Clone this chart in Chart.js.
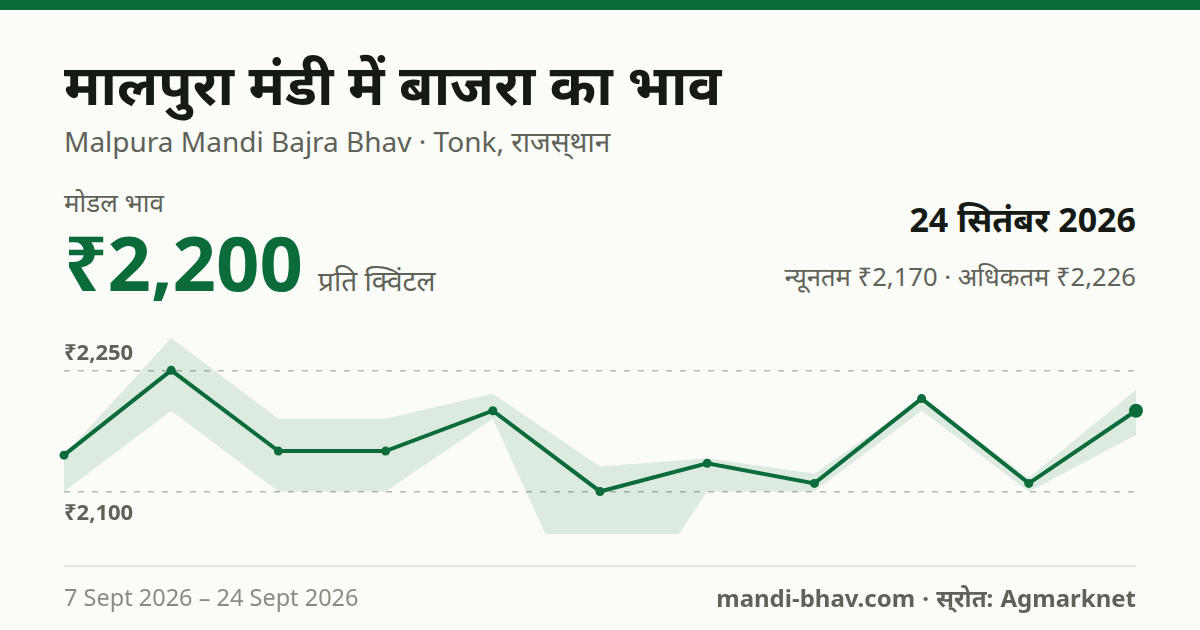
<!DOCTYPE html>
<html>
<head>
<meta charset="utf-8">
<script src="https://cdn.jsdelivr.net/npm/chart.js@4/dist/chart.umd.min.js"></script>
<style>
html, body { margin: 0; padding: 0; }
body { width: 1200px; height: 630px; background: #fbfcf8; position: relative; overflow: hidden; font-family: "Noto Sans", sans-serif; }
.t { position: absolute; white-space: nowrap; line-height: 1; }
#topbar { position: absolute; left: 0; top: 0; width: 1200px; height: 10px; background: #0b6b3a; }
#title { left: 64px; top: 55px; font-size: 56px; font-weight: 700; color: #161a14; }
#sub { left: 64px; top: 127px; font-size: 28px; color: #5f6259; }
#label { left: 64px; top: 189px; font-size: 26px; color: #5f6259; }
#value { left: 64px; top: 223.5px; font-size: 76px; font-weight: 700; color: #0b6b3a; }
#unit { left: 318px; top: 266px; font-size: 28px; color: #5f6259; }
#date { right: 64px; top: 202px; font-size: 34px; font-weight: 700; color: #161a14; }
#range { right: 64px; top: 264px; font-size: 25.6px; color: #5f6259; }
#rule { position: absolute; left: 64px; top: 565px; width: 1072px; height: 2px; background: #e4e5dd; }
#from { left: 64px; top: 586px; font-size: 23.5px; color: #8a8c84; }
#source { right: 64px; top: 586px; font-size: 24px; font-weight: 700; color: #5f6259; word-spacing: 1px; }
#wrap { position: absolute; left: 0; top: 0; width: 1200px; height: 630px; }
</style>
</head>
<body>
<div id="topbar"></div>
<div class="t" id="title">मालपुरा मंडी में बाजरा का भाव</div>
<div class="t" id="sub">Malpura Mandi Bajra Bhav · Tonk, राजस्&zwnj;थान</div>
<div class="t" id="label">मोडल भाव</div>
<div class="t" id="value">₹2,200</div>
<div class="t" id="unit">प्रति क्विंटल</div>
<div class="t" id="date">24 सितंबर 2026</div>
<div class="t" id="range">न्यूनतम ₹2,170 · अधिकतम ₹2,226</div>
<div id="wrap"><canvas id="priceChart"></canvas></div>
<div id="rule"></div>
<div class="t" id="from">7 Sept 2026 – 24 Sept 2026</div>
<div class="t" id="source">mandi-bhav.com · स्&zwnj;रोत: Agmarknet</div>

<script>
var categories = ["7 Sept", "", "", "", "", "", "", "", "", "", "24 Sept"];
var modalPrice = [2145, 2250, 2150, 2150, 2200, 2100, 2135, 2110, 2215, 2110, 2200];
var maxPrice = [2145, 2290, 2190, 2190, 2221, 2131, 2141, 2122, 2215, 2117, 2226];
var minPrice = [2100, 2200, 2100, 2100, 2190, 1900, 2100, 2100, 2200, 2100, 2170];
var tickValues = [2100, 2250];
var tickLabels = ["₹2,100", "₹2,250"];

var green = "#0b6b3a";
var lastIndex = modalPrice.length - 1;

// tick labels sit just off their grid lines, above the top one and below the bottom one
var tickLabelPlugin = {
    id: "tickLabelPlugin",
    afterDraw: function (chart) {
        var ctx = chart.ctx;
        var y = chart.scales.y;
        ctx.save();
        ctx.font = "700 22px 'Noto Sans'";
        ctx.fillStyle = "#5f6259";
        ctx.textAlign = "left";
        ctx.textBaseline = "middle";
        tickValues.forEach(function (v, i) {
            var offset = i === 0 ? 22 : -16.5;
            ctx.fillText(tickLabels[i], chart.chartArea.left, y.getPixelForValue(v) + offset);
        });
        ctx.restore();
    }
};

var ctx = document.getElementById("priceChart");
var myChart = new Chart(ctx, {
    type: "line",
    plugins: [tickLabelPlugin],
    data: {
        labels: categories,
        datasets: [
            {
                label: "Modal",
                data: modalPrice,
                borderColor: green,
                backgroundColor: green,
                borderWidth: 4,
                tension: 0,
                fill: false,
                pointBackgroundColor: green,
                pointBorderWidth: 0,
                pointRadius: modalPrice.map(function (v, i) { return i === lastIndex ? 7 : 4.5; })
            },
            {
                label: "Max",
                data: maxPrice,
                borderWidth: 0,
                pointRadius: 0,
                tension: 0,
                clip: 0,
                fill: "+1",
                backgroundColor: "rgba(11, 107, 58, 0.12)"
            },
            {
                label: "Min",
                data: minPrice,
                borderWidth: 0,
                pointRadius: 0,
                tension: 0,
                clip: 0,
                fill: false
            }
        ]
    },
    options: {
        responsive: true,
        maintainAspectRatio: false,
        animation: false,
        layout: {
            padding: { left: 64, right: 64, top: 330, bottom: 96 }
        },
        plugins: {
            legend: { display: false },
            tooltip: { enabled: false }
        },
        scales: {
            x: { display: false },
            y: {
                min: 2047.3,
                max: 2300,
                afterBuildTicks: function (axis) {
                    axis.ticks = tickValues.map(function (v) { return { value: v }; });
                },
                border: { display: false, dash: [6, 8] },
                ticks: { display: false },
                grid: {
                    color: "#b5b7ae",
                    lineWidth: 1.5,
                    drawTicks: false
                }
            }
        }
    }
});
</script>
</body>
</html>
